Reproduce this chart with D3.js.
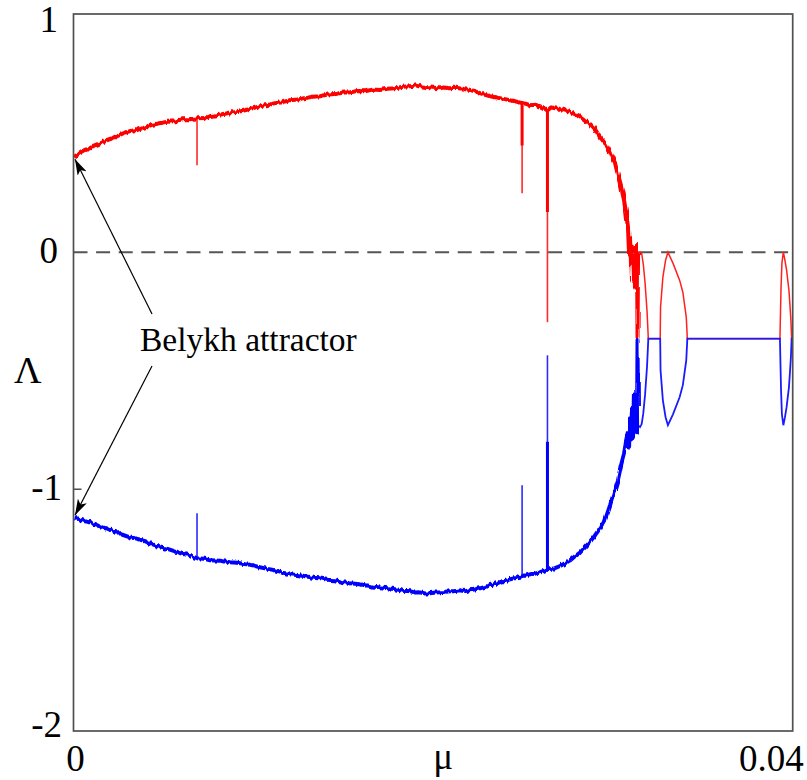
<!DOCTYPE html>
<html>
<head>
<meta charset="utf-8">
<script src="https://cdn.jsdelivr.net/npm/d3@7"></script>
<style>
  html, body { margin: 0; padding: 0; background: #fff; }
  svg { display: block; }
</style>
</head>
<body>
<svg id="chart" width="807" height="780"></svg>
<script>
// Lyapunov exponents of the Belykh attractor versus the parameter mu.

// Largest exponent, chaotic branch  [mu, Lambda]
const redChaotic = [
  [0, 0.401], [0.0002, 0.41], [0.00036, 0.418], [0.00064, 0.43], [0.00092, 0.439],
  [0.0012, 0.452], [0.00147, 0.46], [0.0019, 0.475], [0.00231, 0.485], [0.00272, 0.5],
  [0.00314, 0.511], [0.00356, 0.516], [0.00398, 0.527], [0.0044, 0.538], [0.00481, 0.544],
  [0.00523, 0.55], [0.00565, 0.553], [0.00607, 0.561], [0.00648, 0.561], [0.00687, 0.565],
  [0.00723, 0.566], [0.00759, 0.574], [0.00815, 0.58], [0.0087, 0.59], [0.00912, 0.592],
  [0.00954, 0.599], [0.00996, 0.607], [0.01037, 0.616], [0.01079, 0.621], [0.01121, 0.629],
  [0.01162, 0.633], [0.01204, 0.641], [0.01246, 0.644], [0.01288, 0.65], [0.0133, 0.656],
  [0.01371, 0.658], [0.01413, 0.665], [0.01454, 0.667], [0.01496, 0.673], [0.01538, 0.675],
  [0.0158, 0.68], [0.01621, 0.679], [0.01663, 0.686], [0.01705, 0.684], [0.01746, 0.69],
  [0.01788, 0.692], [0.0183, 0.698], [0.01872, 0.70], [0.019, 0.704], [0.01927, 0.70],
  [0.01955, 0.697], [0.01983, 0.696], [0.02011, 0.693], [0.02039, 0.692], [0.02066, 0.695],
  [0.02094, 0.692], [0.02122, 0.694], [0.0215, 0.692], [0.02178, 0.688], [0.02205, 0.684],
  [0.02233, 0.679], [0.02261, 0.671], [0.02289, 0.664], [0.02317, 0.658], [0.02345, 0.654],
  [0.02372, 0.65], [0.024, 0.646], [0.02428, 0.641], [0.02461, 0.636], [0.02495, 0.629],
  [0.02517, 0.626], [0.02539, 0.62], [0.02567, 0.622], [0.02595, 0.616], [0.02616, 0.608],
  [0.02636, 0.598], [0.02657, 0.612], [0.02678, 0.608], [0.02706, 0.604], [0.02734, 0.599],
  [0.02762, 0.592], [0.02789, 0.582], [0.02817, 0.572], [0.02845, 0.557], [0.02873, 0.541],
  [0.02901, 0.519], [0.02928, 0.485], [0.02956, 0.46], [0.02984, 0.426], [0.03012, 0.376],
  [0.03028, 0.325], [0.03045, 0.278], [0.03062, 0.219], [0.03073, 0.169], [0.03084, 0.101],
  [0.0309, -0.01], [0.03095, 0.06], [0.03101, -0.05], [0.03106, 0.02], [0.03112, -0.12],
  [0.03117, -0.02], [0.03123, -0.15], [0.03128, -0.05], [0.03134, 0.03], [0.03137, -0.36],
  [0.0314, 0.0]
];

// Smallest exponent, chaotic branch  [mu, Lambda]
const blueChaotic = [
  [0, -1.118], [0.0002, -1.122], [0.00036, -1.127], [0.00064, -1.135], [0.00092, -1.139],
  [0.0012, -1.15], [0.00147, -1.156], [0.0019, -1.168], [0.00231, -1.177], [0.00272, -1.192],
  [0.00314, -1.203], [0.00356, -1.21], [0.00398, -1.219], [0.0044, -1.234], [0.00481, -1.245],
  [0.00523, -1.252], [0.00565, -1.262], [0.00607, -1.272], [0.00648, -1.278], [0.00687, -1.291],
  [0.00723, -1.293], [0.00759, -1.3], [0.00815, -1.302], [0.0087, -1.308], [0.00912, -1.31],
  [0.00954, -1.316], [0.00996, -1.321], [0.01037, -1.329], [0.01079, -1.336], [0.01121, -1.342],
  [0.01162, -1.352], [0.01204, -1.359], [0.01246, -1.362], [0.01288, -1.367], [0.0133, -1.373],
  [0.01371, -1.376], [0.01413, -1.382], [0.01454, -1.384], [0.01496, -1.392], [0.01538, -1.397],
  [0.0158, -1.4], [0.01621, -1.405], [0.01663, -1.41], [0.01705, -1.414], [0.01746, -1.418],
  [0.01788, -1.422], [0.0183, -1.428], [0.01872, -1.43], [0.019, -1.436], [0.01927, -1.435],
  [0.01955, -1.44], [0.01983, -1.439], [0.02011, -1.436], [0.02039, -1.435], [0.02066, -1.433],
  [0.02094, -1.43], [0.02122, -1.43], [0.0215, -1.426], [0.02178, -1.43], [0.02205, -1.426],
  [0.02233, -1.423], [0.02261, -1.418], [0.02289, -1.412], [0.02317, -1.405], [0.02345, -1.4],
  [0.02372, -1.392], [0.024, -1.386], [0.02428, -1.38], [0.02461, -1.374], [0.02495, -1.367],
  [0.02517, -1.363], [0.02539, -1.359], [0.02567, -1.356], [0.02595, -1.35], [0.02616, -1.344],
  [0.02636, -1.338], [0.02657, -1.336], [0.02678, -1.333], [0.02706, -1.324], [0.02734, -1.312],
  [0.02762, -1.3], [0.02789, -1.283], [0.02817, -1.268], [0.02845, -1.245], [0.02873, -1.222],
  [0.02901, -1.194], [0.02928, -1.165], [0.02956, -1.131], [0.02984, -1.068], [0.03012, -1.0],
  [0.03028, -0.96], [0.03045, -0.9], [0.03062, -0.85], [0.03073, -0.8], [0.03084, -0.76],
  [0.0309, -0.82], [0.03095, -0.7], [0.03101, -0.79], [0.03106, -0.66], [0.03112, -0.78],
  [0.03117, -0.6], [0.03123, -0.74], [0.03128, -0.62], [0.03134, -0.76], [0.03137, -0.37],
  [0.0314, -0.73]
];

// Periodic windows beyond the chaotic range  [mu, Lambda]
const redWindows = [
  [0.0314, 0.0], [0.03151, 0.0], [0.0316, -0.005], [0.03169, -0.05], [0.03179, -0.13],
  [0.0319, -0.25], [0.03197, -0.365], [0.03263, -0.365], [0.03265, -0.232], [0.03278, -0.105],
  [0.03293, -0.034], [0.03306, 0.0], [0.03334, -0.046], [0.03371, -0.118], [0.03389, -0.169],
  [0.03408, -0.274], [0.03414, -0.365], [0.03929, -0.365], [0.03935, -0.152], [0.0394, -0.046],
  [0.03948, 0.0], [0.03957, -0.034], [0.03966, -0.076], [0.03979, -0.16], [0.03984, -0.215],
  [0.0399, -0.287], [0.03994, -0.365], [0.04, -0.365]
];
const blueWindows = [
  [0.0314, -0.73], [0.03151, -0.738], [0.0316, -0.725], [0.03169, -0.68], [0.03179, -0.6],
  [0.0319, -0.48], [0.03197, -0.365], [0.03263, -0.365], [0.03265, -0.498], [0.03278, -0.625],
  [0.03293, -0.696], [0.03306, -0.73], [0.03334, -0.684], [0.03371, -0.612], [0.03389, -0.561],
  [0.03408, -0.456], [0.03414, -0.365], [0.03929, -0.365], [0.03935, -0.578], [0.0394, -0.684],
  [0.03948, -0.73], [0.03957, -0.696], [0.03966, -0.654], [0.03979, -0.57], [0.03984, -0.515],
  [0.0399, -0.443], [0.03994, -0.365], [0.04, -0.365]
];

// Narrow windows inside the chaotic range: curve value -> spike tip (core = thick part)
const spikes = [
  { mu: 0.00687, red: [0.565, 0.367], redCore: null, blue: [-1.291, -1.101], blueCore: null },
  { mu: 0.02495, red: [0.629, 0.249], redCore: 0.45, blue: [-1.367, -0.983], blueCore: null },
  { mu: 0.02636, red: [0.598, -0.295], redCore: 0.17, blue: [-1.338, -0.435], blueCore: -0.8 }
];

// Axis ticks and labels
const yTicks = [1, 0, -1, -2];
const yTickLabels = ["1", "0", "-1", "-2"];
const xTickValues = [0, 0.04];
const xTickLabels = ["0", "0.04"];
const xTitle = "\u03bc";
const yTitle = "\u039b";
const annotation = "Belykh attractor";

const serif = "'Liberation Serif', 'Times New Roman', Times, serif";

const svg = d3.select("#chart");
const plotLeft = 73.5, plotRight = 792.7, plotTop = 14, plotBottom = 731;

const x = d3.scaleLinear().domain([0, 0.04]).range([plotLeft, plotRight]);
const y = d3.scaleLinear().domain([-2.02, 1.005]).range([plotBottom, plotTop]);

const defs = svg.append("defs");
defs.append("clipPath").attr("id", "plotClip")
  .append("rect").attr("x", plotLeft).attr("y", plotTop)
  .attr("width", plotRight - plotLeft).attr("height", plotBottom - plotTop);

// fine jitter texture for the noisy chaotic branches
const jitter = defs.append("filter").attr("id", "jitter")
  .attr("filterUnits", "userSpaceOnUse")
  .attr("x", 0).attr("y", 0).attr("width", 807).attr("height", 780);
jitter.append("feTurbulence")
  .attr("type", "fractalNoise").attr("baseFrequency", "0.45 0.03")
  .attr("numOctaves", 1).attr("seed", 3).attr("result", "noise");
jitter.append("feDisplacementMap")
  .attr("in", "SourceGraphic").attr("in2", "noise")
  .attr("scale", 5).attr("xChannelSelector", "R").attr("yChannelSelector", "G");

defs.append("marker")
  .attr("id", "arrowHead")
  .attr("viewBox", "0 0 16 10")
  .attr("refX", 16).attr("refY", 5)
  .attr("markerWidth", 16).attr("markerHeight", 10)
  .attr("markerUnits", "userSpaceOnUse")
  .attr("orient", "auto")
  .append("path").attr("d", "M0,0 L16,5 L0,10 L4,5 Z").attr("fill", "#000");

// zero line
svg.append("line")
  .attr("x1", plotLeft).attr("x2", plotRight)
  .attr("y1", y(0)).attr("y2", y(0))
  .attr("stroke", "#555").attr("stroke-width", 2)
  .attr("stroke-dasharray", "14,8.6");

const plot = svg.append("g").attr("clip-path", "url(#plotClip)");
const line = d3.line().x(d => x(d[0])).y(d => y(d[1]));

// thin window curves
plot.append("path").datum(redWindows).attr("d", line)
  .attr("fill", "none").attr("stroke", "#ff2020").attr("stroke-width", 1.5);
plot.append("path").datum(blueWindows).attr("d", line)
  .attr("fill", "none").attr("stroke", "#1a1aff").attr("stroke-width", 1.8);

// spikes
spikes.forEach(s => {
  plot.append("line").attr("x1", x(s.mu)).attr("x2", x(s.mu))
    .attr("y1", y(s.red[0])).attr("y2", y(s.red[1]))
    .attr("stroke", "#ff2a2a").attr("stroke-width", 1.6);
  plot.append("line").attr("x1", x(s.mu)).attr("x2", x(s.mu))
    .attr("y1", y(s.blue[0])).attr("y2", y(s.blue[1]))
    .attr("stroke", "#2a2aff").attr("stroke-width", 1.6);
  if (s.redCore !== null) {
    plot.append("line").attr("x1", x(s.mu)).attr("x2", x(s.mu))
      .attr("y1", y(s.red[0])).attr("y2", y(s.redCore))
      .attr("stroke", "#ff0000").attr("stroke-width", 3);
  }
  if (s.blueCore !== null) {
    plot.append("line").attr("x1", x(s.mu)).attr("x2", x(s.mu))
      .attr("y1", y(s.blue[0])).attr("y2", y(s.blueCore))
      .attr("stroke", "#0000ff").attr("stroke-width", 3);
  }
});

// chaotic branches
const noisy = plot.append("g").attr("filter", "url(#jitter)");
noisy.append("path").datum(redChaotic).attr("d", line)
  .attr("fill", "none").attr("stroke", "#ff0000").attr("stroke-width", 4)
  .attr("stroke-linejoin", "round");
noisy.append("path").datum(blueChaotic).attr("d", line)
  .attr("fill", "none").attr("stroke", "#0000ff").attr("stroke-width", 4)
  .attr("stroke-linejoin", "round");

// frame
svg.append("rect")
  .attr("x", plotLeft).attr("y", plotTop)
  .attr("width", plotRight - plotLeft).attr("height", plotBottom - plotTop)
  .attr("fill", "none").attr("stroke", "#505050").attr("stroke-width", 1.7);

// tick at -1
svg.append("line")
  .attr("x1", plotLeft).attr("x2", plotLeft + 8)
  .attr("y1", y(-1)).attr("y2", y(-1))
  .attr("stroke", "#505050").attr("stroke-width", 1.5);

// y tick labels
yTicks.forEach((v, i) => {
  svg.append("text")
    .attr("x", v >= 0 ? 58 : 62)
    .attr("y", y(v) + (v === 1 ? 17 : 11))
    .attr("text-anchor", "end")
    .attr("font-family", serif)
    .attr("font-size", 37)
    .text(yTickLabels[i]);
});

// x tick labels
xTickValues.forEach((v, i) => {
  svg.append("text")
    .attr("x", v === 0 ? x(v) + 2 : x(v) + 11)
    .attr("y", 771)
    .attr("text-anchor", v === 0 ? "middle" : "end")
    .attr("font-family", serif)
    .attr("font-size", 37)
    .text(xTickLabels[i]);
});

// axis titles
svg.append("text")
  .attr("x", (plotLeft + plotRight) / 2 + 10).attr("y", 769)
  .attr("text-anchor", "middle")
  .attr("font-family", serif).attr("font-size", 37)
  .text(xTitle);
svg.append("text")
  .attr("x", 14).attr("y", 383)
  .attr("font-family", serif).attr("font-size", 38)
  .text(yTitle);

// annotation with arrows to the starting values
svg.append("text")
  .attr("x", 140).attr("y", 351)
  .attr("font-family", serif).attr("font-size", 33.5)
  .text(annotation);

svg.append("line")
  .attr("x1", 152).attr("y1", 314)
  .attr("x2", x(0) + 1.5).attr("y2", y(redChaotic[0][1]) + 2)
  .attr("stroke", "#000").attr("stroke-width", 1.2)
  .attr("marker-end", "url(#arrowHead)");
svg.append("line")
  .attr("x1", 152).attr("y1", 366)
  .attr("x2", x(0) + 1.5).attr("y2", y(blueChaotic[0][1]) - 2)
  .attr("stroke", "#000").attr("stroke-width", 1.2)
  .attr("marker-end", "url(#arrowHead)");
</script>
</body>
</html>
